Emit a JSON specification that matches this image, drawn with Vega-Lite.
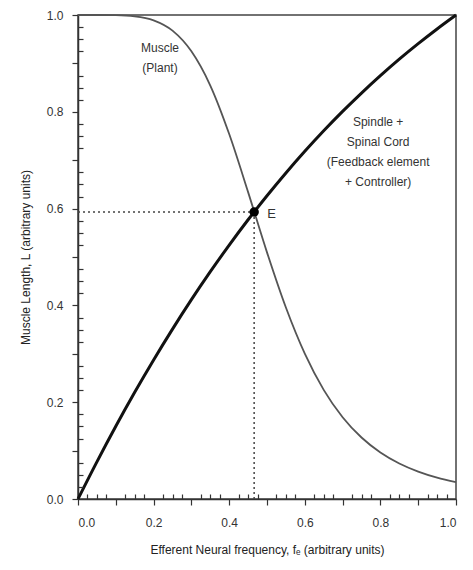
{
  "$schema": "https://vega.github.io/schema/vega-lite/v6.json",
  "width": 378,
  "height": 484,
  "autosize": {"type": "none"},
  "padding": {"left": 78, "top": 15, "right": 17, "bottom": 71},
  "background": "white",
  "config": {
    "view": {"stroke": "#444", "strokeWidth": 1.5},
    "font": "Liberation Sans",
    "axis": {
      "domainColor": "#333",
      "domainWidth": 1.5,
      "tickColor": "#333",
      "tickWidth": 1.2,
      "labelColor": "#333",
      "titleColor": "#222",
      "labelFontSize": 12,
      "titleFontSize": 12,
      "titleFontWeight": "normal",
      "grid": false,
      "labelOverlap": false
    }
  },
  "resolve": {"axis": {"x": "independent", "y": "independent"}},
  "datasets": {
    "curves": [
      {"x": 0, "y": 1.0, "curve": "muscle"},
      {"x": 0.05, "y": 1.0, "curve": "muscle"},
      {"x": 0.1, "y": 0.9996, "curve": "muscle"},
      {"x": 0.15, "y": 0.9972, "curve": "muscle"},
      {"x": 0.2, "y": 0.989, "curve": "muscle"},
      {"x": 0.25, "y": 0.9677, "curve": "muscle"},
      {"x": 0.3, "y": 0.925, "curve": "muscle"},
      {"x": 0.35, "y": 0.8543, "curve": "muscle"},
      {"x": 0.4, "y": 0.754, "curve": "muscle"},
      {"x": 0.45, "y": 0.634, "curve": "muscle"},
      {"x": 0.5, "y": 0.5096, "curve": "muscle"},
      {"x": 0.55, "y": 0.3956, "curve": "muscle"},
      {"x": 0.6, "y": 0.3003, "curve": "muscle"},
      {"x": 0.65, "y": 0.2255, "curve": "muscle"},
      {"x": 0.7, "y": 0.1689, "curve": "muscle"},
      {"x": 0.75, "y": 0.127, "curve": "muscle"},
      {"x": 0.8, "y": 0.0961, "curve": "muscle"},
      {"x": 0.85, "y": 0.0734, "curve": "muscle"},
      {"x": 0.9, "y": 0.0567, "curve": "muscle"},
      {"x": 0.95, "y": 0.0442, "curve": "muscle"},
      {"x": 1.0, "y": 0.0348, "curve": "muscle"},
      {"x": 0, "y": 0, "curve": "spindle"},
      {"x": 0.05, "y": 0.0768, "curve": "spindle"},
      {"x": 0.1, "y": 0.1503, "curve": "spindle"},
      {"x": 0.15, "y": 0.2204, "curve": "spindle"},
      {"x": 0.2, "y": 0.2873, "curve": "spindle"},
      {"x": 0.25, "y": 0.351, "curve": "spindle"},
      {"x": 0.3, "y": 0.4118, "curve": "spindle"},
      {"x": 0.35, "y": 0.4696, "curve": "spindle"},
      {"x": 0.4, "y": 0.5246, "curve": "spindle"},
      {"x": 0.45, "y": 0.5769, "curve": "spindle"},
      {"x": 0.5, "y": 0.6265, "curve": "spindle"},
      {"x": 0.55, "y": 0.6736, "curve": "spindle"},
      {"x": 0.6, "y": 0.7183, "curve": "spindle"},
      {"x": 0.65, "y": 0.7607, "curve": "spindle"},
      {"x": 0.7, "y": 0.8008, "curve": "spindle"},
      {"x": 0.75, "y": 0.8387, "curve": "spindle"},
      {"x": 0.8, "y": 0.8747, "curve": "spindle"},
      {"x": 0.85, "y": 0.9087, "curve": "spindle"},
      {"x": 0.9, "y": 0.9408, "curve": "spindle"},
      {"x": 0.95, "y": 0.9712, "curve": "spindle"},
      {"x": 1.0, "y": 1.0, "curve": "spindle"}
    ],
    "guides": [
      {"x": 0, "y": 0.593, "g": "h"},
      {"x": 0.466, "y": 0.593, "g": "h"},
      {"x": 0.466, "y": 0, "g": "v"},
      {"x": 0.466, "y": 0.593, "g": "v"}
    ],
    "eq": [{"x": 0.466, "y": 0.593, "label": "E"}],
    "labels": [
      {"x": 0.217, "y": 0.943, "text": "Muscle\n(Plant)"},
      {"x": 0.794, "y": 0.79, "text": "Spindle +\nSpinal Cord\n(Feedback element\n+ Controller)"}
    ]
  },
  "layer": [
    {
      "data": {"name": "guides"},
      "mark": {"type": "line", "strokeDash": [2, 3], "strokeWidth": 1.5, "color": "#444"},
      "encoding": {
        "x": {"field": "x", "type": "quantitative", "scale": {"domain": [0, 1], "nice": false, "zero": false},
          "axis": {
            "orient": "bottom",
            "title": "Efferent Neural frequency, fₑ (arbitrary units)",
            "values": [0, 0.1, 0.2, 0.3, 0.4, 0.5, 0.6, 0.7, 0.8, 0.9, 1.0],
            "labelExpr": "round(datum.value*10) % 2 == 0 ? format(datum.value, '.1f') : ''",
            "tickSize": 6,
            "labelPadding": 12,
            "titlePadding": 16
          }},
        "y": {"field": "y", "type": "quantitative", "scale": {"domain": [0, 1], "nice": false, "zero": false},
          "axis": {
            "orient": "left",
            "title": "Muscle Length, L (arbitrary units)",
            "values": [0, 0.1, 0.2, 0.3, 0.4, 0.5, 0.6, 0.7, 0.8, 0.9, 1.0],
            "labelExpr": "round(datum.value*10) % 2 == 0 ? format(datum.value, '.1f') : ''",
            "tickSize": 6,
            "labelPadding": 9,
            "titlePadding": 14
          }},
        "detail": {"field": "g"}
      }
    },
    {
      "data": {"name": "curves"},
      "transform": [{"filter": "datum.curve == 'muscle'"}],
      "mark": {"type": "line", "interpolate": "monotone", "color": "#555", "strokeWidth": 1.8},
      "encoding": {
        "x": {"field": "x", "type": "quantitative",
          "axis": {
            "orient": "top", "offset": -484, "domainOpacity": 0, "labelExpr": "''", "title": "",
            "tickSize": 5, "tickColor": "#333", "tickWidth": 1.2, "tickOpacity": 1, "zindex": 1,
            "values": [0.025,0.05,0.075,0.125,0.15,0.175,0.225,0.25,0.275,0.325,0.35,0.375,0.425,0.45,0.475,0.525,0.55,0.575,0.625,0.65,0.675,0.725,0.75,0.775,0.825,0.85,0.875,0.925,0.95,0.975]
          }},
        "y": {"field": "y", "type": "quantitative",
          "axis": {
            "orient": "right", "offset": -378, "domainOpacity": 0, "labelExpr": "''", "title": "",
            "tickSize": 5, "tickColor": "#333", "tickWidth": 1.2, "tickOpacity": 1, "zindex": 1,
            "values": [0.025,0.05,0.075,0.125,0.15,0.175,0.225,0.25,0.275,0.325,0.35,0.375,0.425,0.45,0.475,0.525,0.55,0.575,0.625,0.65,0.675,0.725,0.75,0.775,0.825,0.85,0.875,0.925,0.95,0.975]
          }}
      }
    },
    {
      "data": {"name": "curves"},
      "transform": [{"filter": "datum.curve == 'spindle'"}],
      "mark": {"type": "line", "interpolate": "monotone", "color": "#111", "strokeWidth": 3},
      "encoding": {
        "x": {"field": "x", "type": "quantitative", "axis": null},
        "y": {"field": "y", "type": "quantitative", "axis": null}
      }
    },
    {
      "data": {"name": "eq"},
      "mark": {"type": "point", "filled": true, "color": "#000", "size": 90, "opacity": 1},
      "encoding": {
        "x": {"field": "x", "type": "quantitative", "axis": null},
        "y": {"field": "y", "type": "quantitative", "axis": null}
      }
    },
    {
      "data": {"name": "eq"},
      "mark": {"type": "text", "align": "left", "baseline": "middle", "dx": 13, "dy": 2, "fontSize": 13, "color": "#333"},
      "encoding": {
        "x": {"field": "x", "type": "quantitative", "axis": null},
        "y": {"field": "y", "type": "quantitative", "axis": null},
        "text": {"field": "label"}
      }
    },
    {
      "data": {"name": "labels"},
      "mark": {"type": "text", "align": "center", "baseline": "top", "lineBreak": "\n", "lineHeight": 20, "fontSize": 12, "color": "#333"},
      "encoding": {
        "x": {"field": "x", "type": "quantitative", "axis": null},
        "y": {"field": "y", "type": "quantitative", "axis": null},
        "text": {"field": "text"}
      }
    }
  ]
}
